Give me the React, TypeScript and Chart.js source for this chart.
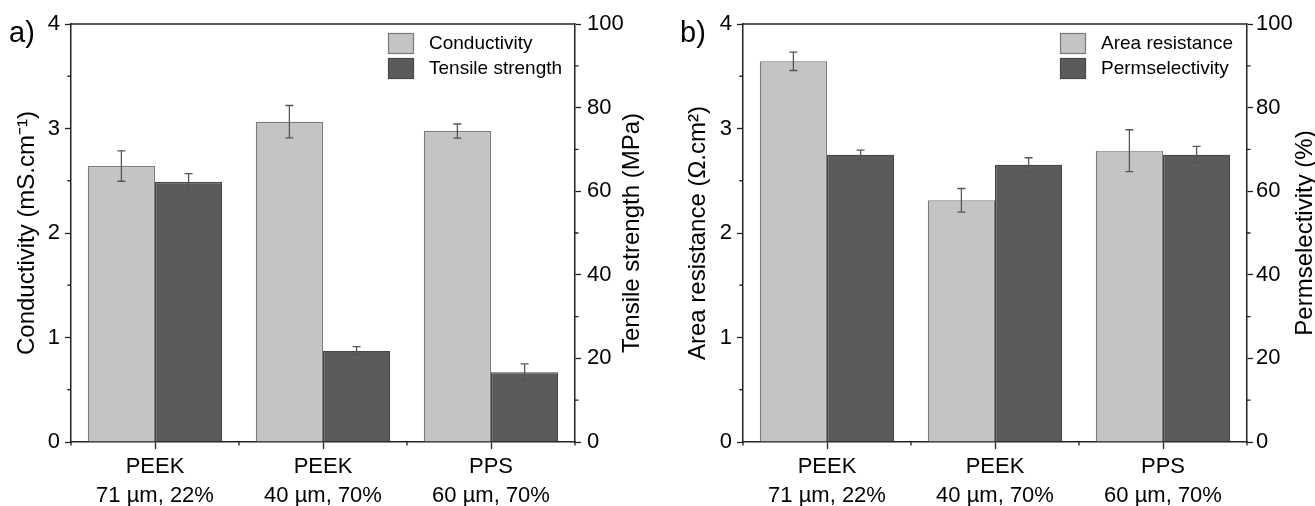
import React, { useEffect, useRef } from "react";
import { Chart, registerables } from "chart.js";

Chart.register(...registerables);

// ---------- data ----------
const categories = [
  ["PEEK", "71 µm, 22%"],
  ["PEEK", "40 µm, 70%"],
  ["PPS", "60 µm, 70%"],
];

const conductivity = [2.64, 3.065, 2.975];
const conductivityErr = [0.145, 0.155, 0.068];
const tensileStrength = [62.2, 21.8, 16.7];
const tensileStrengthErr = [2.0, 1.0, 2.0];

const areaResistance = [3.643, 2.313, 2.788];
const areaResistanceErr = [0.088, 0.113, 0.2];
const permselectivity = [68.7, 66.3, 68.7];
const permselectivityErr = [1.15, 1.7, 2.0];

const leftAxisTicks = [0, 1, 2, 3, 4];
const leftMinorTicks = [0.5, 1.5, 2.5, 3.5];
const rightAxisTicks = [0, 20, 40, 60, 80, 100];
const rightMinorTicks = [10, 30, 50, 70, 90];

// ---------- style ----------
const FONT = "Arial, 'Liberation Sans', Helvetica, sans-serif";
const AXIS = "#222";
const LIGHT = "#c4c4c4";
const LIGHT_BORDER = "#7a7a7a";
const DARK = "#5b5b5b";
const DARK_BORDER = "#474747";
const ERR = "#555";

Chart.defaults.font.family = FONT;

type PanelProps = {
  tag: string;
  tagX: number;
  width: number;
  leftW: number;
  rightW: number;
  leftTitle: string;
  rightTitle: string;
  leftTitlePad: number;
  rightTitleX: number;
  rightTickPad: number;
  labels: string[];
  values: number[][];
  errors: number[][];
};

function Panel(p: PanelProps) {
  const ref = useRef<HTMLCanvasElement | null>(null);

  useEffect(() => {
    if (!ref.current) return;

    const overlay = {
      id: "overlay",
      afterDatasetsDraw(chart: any) {
        const ctx = chart.ctx;
        ctx.save();
        ctx.strokeStyle = ERR;
        ctx.lineWidth = 1.3;
        chart.data.datasets.forEach((ds: any, d: number) => {
          const meta = chart.getDatasetMeta(d);
          const scale = chart.scales[meta.yAxisID];
          ds.data.forEach((v: number, i: number) => {
            const e = ds.errors[i];
            const x = meta.data[i].x;
            const yt = scale.getPixelForValue(v + e);
            const yb = scale.getPixelForValue(v - e);
            ctx.beginPath();
            ctx.moveTo(x, yt);
            ctx.lineTo(x, yb);
            ctx.moveTo(x - 4, yt);
            ctx.lineTo(x + 4, yt);
            ctx.moveTo(x - 4, yb);
            ctx.lineTo(x + 4, yb);
            ctx.stroke();
          });
        });
        ctx.restore();
      },
      afterDraw(chart: any) {
        const ctx = chart.ctx;
        const a = chart.chartArea;
        ctx.save();
        // top frame line
        ctx.strokeStyle = AXIS;
        ctx.lineWidth = 1.5;
        ctx.beginPath();
        ctx.moveTo(a.left, a.top);
        ctx.lineTo(a.right, a.top);
        ctx.stroke();
        // minor ticks
        ctx.lineWidth = 1.3;
        ctx.beginPath();
        const yl = chart.scales.y;
        leftMinorTicks.forEach((v) => {
          const y = yl.getPixelForValue(v);
          ctx.moveTo(a.left, y);
          ctx.lineTo(a.left - 3.5, y);
        });
        const yr = chart.scales.y1;
        rightMinorTicks.forEach((v) => {
          const y = yr.getPixelForValue(v);
          ctx.moveTo(a.right, y);
          ctx.lineTo(a.right + 3.5, y);
        });
        const xs = chart.scales.x;
        const n = chart.data.labels.length;
        for (let i = 0; i <= n; i++) {
          const x = xs.getPixelForValue(i - 0.5);
          ctx.moveTo(x, a.bottom);
          ctx.lineTo(x, a.bottom + 3.5);
        }
        ctx.stroke();
        // right axis title (reads bottom-to-top)
        ctx.save();
        ctx.translate(p.rightTitleX, (a.top + a.bottom) / 2);
        ctx.rotate(-Math.PI / 2);
        ctx.font = `24px ${FONT}`;
        ctx.fillStyle = "#000";
        ctx.textAlign = "center";
        ctx.textBaseline = "middle";
        ctx.fillText(p.rightTitle, 0, 0);
        ctx.restore();
        // legend
        const bx = a.right - 187;
        let by = a.top + 9;
        ctx.font = `19px ${FONT}`;
        ctx.textBaseline = "middle";
        ctx.textAlign = "left";
        chart.data.datasets.forEach((ds: any) => {
          ctx.fillStyle = ds.backgroundColor;
          ctx.fillRect(bx, by, 26, 21);
          ctx.strokeStyle = ds.borderColor;
          ctx.lineWidth = 1.2;
          ctx.strokeRect(bx + 0.5, by + 0.5, 25, 20);
          ctx.fillStyle = "#000";
          ctx.fillText(ds.label, bx + 41, by + 11);
          by += 25;
        });
        // panel tag
        ctx.font = `29px ${FONT}`;
        ctx.textBaseline = "alphabetic";
        ctx.fillStyle = "#000";
        ctx.fillText(p.tag, p.tagX, 42);
        ctx.restore();
      },
    };

    const gridOpts = (len: number) => ({
      display: true,
      drawOnChartArea: false,
      drawTicks: true,
      tickLength: len,
      tickWidth: 1.3,
      tickColor: AXIS,
    });

    const chart = new Chart(ref.current, {
      type: "bar",
      data: {
        labels: categories as any,
        datasets: [
          {
            label: p.labels[0],
            data: p.values[0],
            errors: p.errors[0],
            yAxisID: "y",
            backgroundColor: LIGHT,
            borderColor: LIGHT_BORDER,
            borderWidth: 1.2,
            categoryPercentage: 0.8,
            barPercentage: 1.0,
          } as any,
          {
            label: p.labels[1],
            data: p.values[1],
            errors: p.errors[1],
            yAxisID: "y1",
            backgroundColor: DARK,
            borderColor: DARK_BORDER,
            borderWidth: 1.2,
            categoryPercentage: 0.8,
            barPercentage: 1.0,
          } as any,
        ],
      },
      options: {
        animation: false,
        responsive: false,
        maintainAspectRatio: false,
        devicePixelRatio: 1,
        layout: { padding: { top: 24, left: 0, right: 0, bottom: 0 } },
        plugins: {
          legend: { display: false },
          tooltip: { enabled: false },
        },
        scales: {
          x: {
            type: "category",
            offset: true,
            grid: { ...gridOpts(7), offset: false },
            border: { display: true, color: AXIS, width: 1.5 },
            ticks: {
              color: "#000",
              font: { size: 22, lineHeight: 1.32 },
              padding: 3,
              maxRotation: 0,
              autoSkip: false,
            },
            afterFit: (s: any) => {
              s.height = 64;
            },
          },
          y: {
            type: "linear",
            position: "left",
            min: 0,
            max: 4,
            afterBuildTicks: (s: any) => {
              s.ticks = leftAxisTicks.map((v) => ({ value: v }));
            },
            grid: gridOpts(6),
            border: { display: true, color: AXIS, width: 1.5 },
            ticks: { color: "#000", font: { size: 22 }, padding: 5 },
            title: {
              display: true,
              text: p.leftTitle,
              color: "#000",
              font: { size: 24, lineHeight: 1 },
              padding: { top: p.leftTitlePad, bottom: 0 },
            },
            afterFit: (s: any) => {
              s.width = p.leftW;
            },
          },
          y1: {
            type: "linear",
            position: "right",
            min: 0,
            max: 100,
            afterBuildTicks: (s: any) => {
              s.ticks = rightAxisTicks.map((v) => ({ value: v }));
            },
            grid: gridOpts(6),
            border: { display: true, color: AXIS, width: 1.5 },
            ticks: { color: "#000", font: { size: 22 }, padding: p.rightTickPad },
            afterFit: (s: any) => {
              s.width = p.rightW;
            },
          },
        },
      } as any,
      plugins: [overlay],
    });
    return () => chart.destroy();
  }, []);

  return (
    <canvas
      ref={ref}
      width={p.width}
      height={506}
      style={{ display: "block", width: p.width, height: 506 }}
    />
  );
}

export default function App() {
  return (
    <div
      style={{
        position: "absolute",
        left: 0,
        top: 0,
        width: 1315,
        height: 506,
        display: "flex",
        background: "#fff",
      }}
    >
      <Panel
        tag="a)"
        tagX={9}
        width={657}
        leftW={71}
        rightW={82}
        leftTitle="Conductivity (mS.cm⁻¹)"
        rightTitle="Tensile strength (MPa)"
        leftTitlePad={15}
        rightTitleX={632}
        rightTickPad={6}
        labels={["Conductivity", "Tensile strength"]}
        values={[conductivity, tensileStrength]}
        errors={[conductivityErr, tensileStrengthErr]}
      />
      <Panel
        tag="b)"
        tagX={23}
        width={658}
        leftW={86}
        rightW={68}
        leftTitle="Area resistance (Ω.cm²)"
        rightTitle="Permselectivity (%)"
        leftTitlePad={29}
        rightTitleX={648}
        rightTickPad={3}
        labels={["Area resistance", "Permselectivity"]}
        values={[areaResistance, permselectivity]}
        errors={[areaResistanceErr, permselectivityErr]}
      />
    </div>
  );
}
